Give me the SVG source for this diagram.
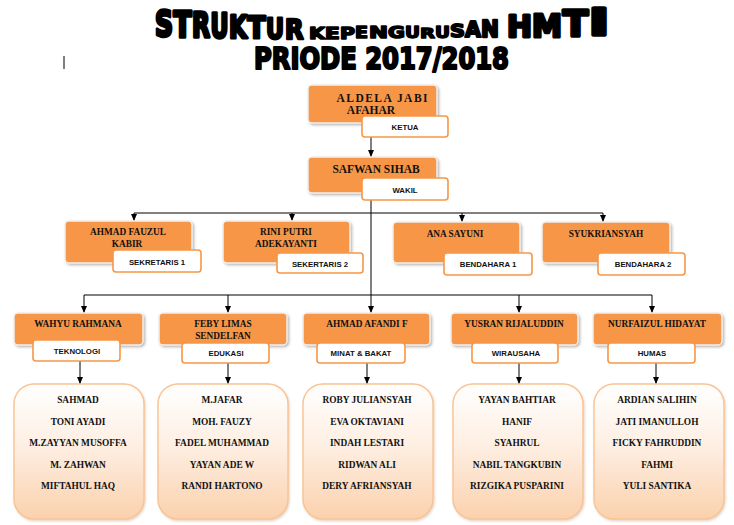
<svg xmlns="http://www.w3.org/2000/svg" width="734" height="525" viewBox="0 0 734 525">
<style>
.tt{font-family:"DejaVu Sans",sans-serif;font-weight:bold;font-size:20px;fill:#000;stroke:#000;stroke-width:2;stroke-linejoin:round}
.tp{font-family:"DejaVu Sans",sans-serif;font-weight:bold;fill:#000;stroke:#000;stroke-width:2.2;stroke-linejoin:round}
.ob{fill:#f79646;stroke:#f0f0f0;stroke-width:1.5;filter:url(#sh)}
.lb{fill:#fff;stroke:#f79646;stroke-width:1.6}
.mb{fill:url(#g);stroke:#f9c394;stroke-width:1.4;filter:url(#sh2)}
.nm{font-family:"Liberation Serif","Times New Roman",serif;font-weight:bold;font-size:9.3px;fill:#111;text-anchor:middle}
.nt{font-family:"Liberation Serif","Times New Roman",serif;font-weight:bold;font-size:11.5px;fill:#111;text-anchor:middle}
.lt{font-family:"Liberation Sans",Arial,sans-serif;font-weight:bold;font-size:7.8px;fill:#111;text-anchor:middle}
.mt{font-family:"Liberation Serif","Times New Roman",serif;font-weight:bold;font-size:9.4px;fill:#111;text-anchor:middle}
.cn{stroke:#000;stroke-width:1;fill:none}
</style>
<defs>
<linearGradient id="g" x1="0" y1="0" x2="0" y2="1">
<stop offset="0" stop-color="#ffffff"/>
<stop offset="0.45" stop-color="#feefe3"/>
<stop offset="1" stop-color="#fbd1ad"/>
</linearGradient>
<filter id="sh" x="-10%" y="-10%" width="125%" height="135%">
<feDropShadow dx="1.5" dy="1.5" stdDeviation="0.8" flood-color="#8a8a8a" flood-opacity="0.6"/>
</filter>
<filter id="sh2" x="-10%" y="-10%" width="125%" height="125%">
<feDropShadow dx="1" dy="1.5" stdDeviation="1" flood-color="#c9a98d" flood-opacity="0.5"/>
</filter>
<marker id="ar" markerUnits="userSpaceOnUse" markerWidth="6" markerHeight="7" refX="3" refY="7" orient="0">
<path d="M0,0 L6,0 L3,7 z" fill="#000"/>
</marker>
</defs>
<rect width="734" height="525" fill="#fff"/>

<g id="title">
<text class="tt" transform="translate(155,36) scale(1.25,1.783)">S</text>
<text class="tt" transform="translate(173.5,36.5) scale(1.32,1.749)">T</text>
<text class="tt" transform="translate(192,37) scale(1.169,1.715)">R</text>
<text class="tt" transform="translate(210.5,37.5) scale(1.108,1.68)">U</text>
<text class="tt" transform="translate(229,38) scale(1.161,1.578)">K</text>
<text class="tt" transform="translate(247.5,38) scale(1.32,1.509)">T</text>
<text class="tt" transform="translate(266,38.5) scale(1.108,1.406)">U</text>
<text class="tt" transform="translate(285,39) scale(1.2,1.303)">R</text>
<text class="tt" transform="translate(309,38.5) scale(1.03,0.789)">K</text>
<text class="tt" transform="translate(325,38.5) scale(1.08,0.789)">E</text>
<text class="tt" transform="translate(340,38.5) scale(1.02,0.789)">P</text>
<text class="tt" transform="translate(355,38) scale(0.95,0.754)">E</text>
<text class="tt" transform="translate(369,38) scale(1.13,0.754)">N</text>
<text class="tt" transform="translate(388,38) scale(1.03,0.754)">G</text>
<text class="tt" transform="translate(405,38) scale(0.92,0.754)">U</text>
<text class="tt" transform="translate(420,37.5) scale(0.97,0.72)">R</text>
<text class="tt" transform="translate(435,37.5) scale(0.92,0.789)">U</text>
<text class="tt" transform="translate(450,37) scale(1.04,0.892)">S</text>
<text class="tt" transform="translate(465,37) scale(1.03,1.029)">A</text>
<text class="tt" transform="translate(481,37) scale(1.07,1.166)">N</text>
<text class="tt" transform="translate(507,37) scale(1.493,1.509)">H</text>
<text class="tt" transform="translate(532,36.5) scale(1.508,1.612)">M</text>
<text class="tt" transform="translate(563,36) scale(1.833,1.783)">T</text>
<text class="tt" transform="translate(589,35) scale(2.69,1.852)">I</text>
<text class="tp" x="254" y="69" font-size="29.5" textLength="255" lengthAdjust="spacingAndGlyphs">PRIODE 2017/2018</text>
</g>
<line x1="64" y1="56" x2="64" y2="69" stroke="#000" stroke-width="1"/>

<g id="connectors">
<line class="cn" x1="371" y1="137" x2="371" y2="157" marker-end="url(#ar)"/>
<line class="cn" x1="371" y1="200" x2="371" y2="313" marker-end="url(#ar)"/>
<polyline class="cn" points="134,213 603,213"/>
<line class="cn" x1="134" y1="213" x2="134" y2="221" marker-end="url(#ar)"/>
<line class="cn" x1="292" y1="213" x2="292" y2="221" marker-end="url(#ar)"/>
<line class="cn" x1="462" y1="213" x2="462" y2="222" marker-end="url(#ar)"/>
<line class="cn" x1="603" y1="213" x2="603" y2="222" marker-end="url(#ar)"/>
<polyline class="cn" points="84,295 652,295"/>
<line class="cn" x1="84" y1="295" x2="84" y2="313" marker-end="url(#ar)"/>
<line class="cn" x1="228" y1="295" x2="228" y2="313" marker-end="url(#ar)"/>
<line class="cn" x1="519" y1="295" x2="519" y2="313" marker-end="url(#ar)"/>
<line class="cn" x1="652" y1="295" x2="652" y2="313" marker-end="url(#ar)"/>
<line class="cn" x1="80" y1="361" x2="80" y2="384" marker-end="url(#ar)"/>
<line class="cn" x1="228" y1="363" x2="228" y2="384" marker-end="url(#ar)"/>
<line class="cn" x1="367" y1="363" x2="367" y2="384" marker-end="url(#ar)"/>
<line class="cn" x1="519" y1="363" x2="519" y2="384" marker-end="url(#ar)"/>
<line class="cn" x1="656" y1="363" x2="656" y2="384" marker-end="url(#ar)"/>
</g>

<g id="ketua">
<rect class="ob" x="308" y="85" width="129" height="38" rx="4"/>
<text class="nt" x="382" y="102" textLength="91">ALDELA JABI</text>
<text class="nt" x="371" y="114">AFAHAR</text>
<rect class="lb" x="362" y="116" width="86" height="21" rx="3"/>
<text class="lt" x="405" y="130">KETUA</text>
</g>
<g id="wakil">
<rect class="ob" x="308" y="157" width="129" height="36" rx="4"/>
<text class="nt" x="376" y="173">SAFWAN SIHAB</text>
<rect class="lb" x="362" y="178" width="86" height="22" rx="3"/>
<text class="lt" x="405" y="193">WAKIL</text>
</g>

<g id="sekretaris1">
<rect class="ob" x="65" y="221" width="127" height="42" rx="4"/>
<text class="nm" x="128" y="235">AHMAD FAUZUL</text>
<text class="nm" x="127" y="247">KABIR</text>
<rect class="lb" x="113" y="250" width="88" height="22" rx="3"/>
<text class="lt" x="157" y="265">SEKRETARIS 1</text>
</g>
<g id="sekretaris2">
<rect class="ob" x="223" y="221" width="127" height="42" rx="4"/>
<text class="nm" x="286" y="235">RINI PUTRI</text>
<text class="nm" x="286" y="247">ADEKAYANTI</text>
<rect class="lb" x="277" y="253" width="86" height="20" rx="3"/>
<text class="lt" x="320" y="267">SEKERTARIS 2</text>
</g>
<g id="bendahara1">
<rect class="ob" x="393" y="222" width="127" height="41" rx="4"/>
<text class="nm" x="455" y="237">ANA SAYUNI</text>
<rect class="lb" x="444" y="253" width="88" height="22" rx="3"/>
<text class="lt" x="488" y="267">BENDAHARA 1</text>
</g>
<g id="bendahara2">
<rect class="ob" x="542" y="222" width="128" height="41" rx="4"/>
<text class="nm" x="606" y="237">SYUKRIANSYAH</text>
<rect class="lb" x="598" y="253" width="87" height="22" rx="3"/>
<text class="lt" x="643" y="267">BENDAHARA 2</text>
</g>

<g id="teknologi">
<rect class="ob" x="14" y="313" width="129" height="32" rx="4"/>
<text class="nm" x="78" y="327">WAHYU RAHMANA</text>
<rect class="lb" x="33" y="340" width="87" height="21" rx="3"/>
<text class="lt" x="77" y="354">TEKNOLOGI</text>
</g>
<g id="edukasi">
<rect class="ob" x="159" y="313" width="128" height="32" rx="4"/>
<text class="nm" x="223" y="327">FEBY LIMAS</text>
<text class="nm" x="223" y="339">SENDELFAN</text>
<rect class="lb" x="182" y="343" width="87" height="20" rx="3"/>
<text class="lt" x="226" y="356">EDUKASI</text>
</g>
<g id="minatbakat">
<rect class="ob" x="303" y="313" width="127" height="32" rx="4"/>
<text class="nm" x="367" y="327">AHMAD AFANDI F</text>
<rect class="lb" x="317" y="343" width="88" height="20" rx="3"/>
<text class="lt" x="361" y="356">MINAT &amp; BAKAT</text>
</g>
<g id="wirausaha">
<rect class="ob" x="451" y="313" width="127" height="32" rx="4"/>
<text class="nm" x="514" y="327">YUSRAN RIJALUDDIN</text>
<rect class="lb" x="472" y="343" width="86" height="20" rx="3"/>
<text class="lt" x="516" y="356">WIRAUSAHA</text>
</g>
<g id="humas">
<rect class="ob" x="593" y="313" width="129" height="32" rx="4"/>
<text class="nm" x="657" y="327">NURFAIZUL HIDAYAT</text>
<rect class="lb" x="608" y="343" width="87" height="20" rx="3"/>
<text class="lt" x="652" y="356">HUMAS</text>
</g>

<g id="anggota-teknologi">
<rect class="mb" x="14" y="384" width="130" height="135" rx="20"/>
<text class="mt" x="78" y="403">SAHMAD</text>
<text class="mt" x="78" y="425">TONI AYADI</text>
<text class="mt" x="78" y="446">M.ZAYYAN MUSOFFA</text>
<text class="mt" x="78" y="468">M. ZAHWAN</text>
<text class="mt" x="78" y="489">MIFTAHUL HAQ</text>
</g>
<g id="anggota-edukasi">
<rect class="mb" x="158" y="384" width="130" height="135" rx="20"/>
<text class="mt" x="222" y="403">M.JAFAR</text>
<text class="mt" x="222" y="425">MOH. FAUZY</text>
<text class="mt" x="222" y="446">FADEL MUHAMMAD</text>
<text class="mt" x="222" y="468">YAYAN ADE W</text>
<text class="mt" x="222" y="489">RANDI HARTONO</text>
</g>
<g id="anggota-minatbakat">
<rect class="mb" x="303" y="384" width="130" height="135" rx="20"/>
<text class="mt" x="367" y="403">ROBY JULIANSYAH</text>
<text class="mt" x="367" y="425">EVA OKTAVIANI</text>
<text class="mt" x="367" y="446">INDAH LESTARI</text>
<text class="mt" x="367" y="468">RIDWAN ALI</text>
<text class="mt" x="367" y="489">DERY AFRIANSYAH</text>
</g>
<g id="anggota-wirausaha">
<rect class="mb" x="453" y="384" width="130" height="135" rx="20"/>
<text class="mt" x="517" y="403">YAYAN BAHTIAR</text>
<text class="mt" x="517" y="425">HANIF</text>
<text class="mt" x="517" y="446">SYAHRUL</text>
<text class="mt" x="517" y="468">NABIL TANGKUBIN</text>
<text class="mt" x="517" y="489">RIZGIKA PUSPARINI</text>
</g>
<g id="anggota-humas">
<rect class="mb" x="594" y="384" width="130" height="135" rx="20"/>
<text class="mt" x="657" y="403">ARDIAN SALIHIN</text>
<text class="mt" x="657" y="425">JATI IMANULLOH</text>
<text class="mt" x="657" y="446">FICKY FAHRUDDIN</text>
<text class="mt" x="657" y="468">FAHMI</text>
<text class="mt" x="657" y="489">YULI SANTIKA</text>
</g>
</svg>
